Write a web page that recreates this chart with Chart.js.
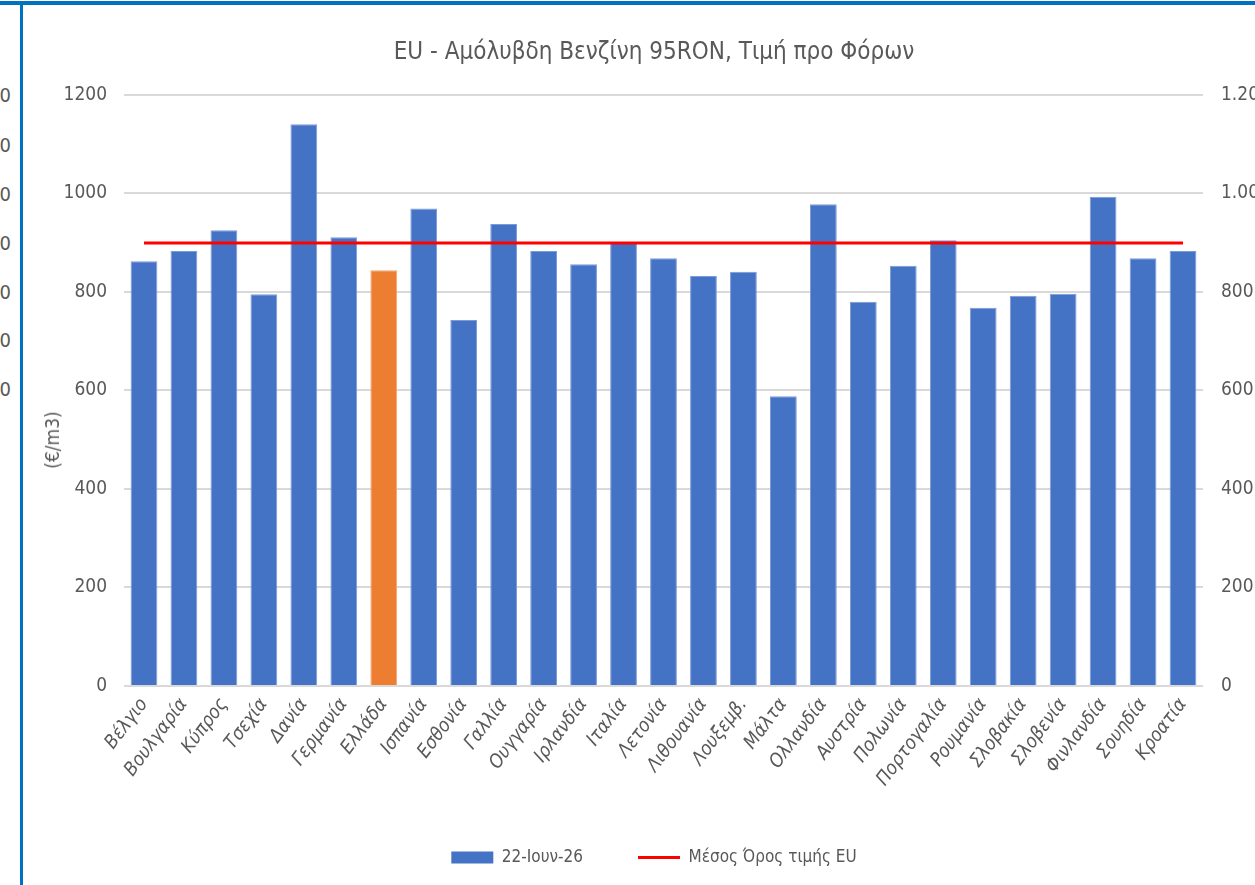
<!DOCTYPE html>
<html>
<head>
<meta charset="utf-8">
<script src="https://cdn.jsdelivr.net/npm/chart.js@4.4.1/dist/chart.umd.min.js"></script>
<style>
  html, body { margin: 0; padding: 0; background: #fff; width: 1255px; height: 885px; overflow: hidden; position: relative; }
  .font { font-family: "Liberation Sans Narrow", "DejaVu Sans Condensed", "Noto Sans", sans-serif; }
  #topline { position: absolute; left: 0; top: 1px; width: 1255px; height: 4px; background: #0070C0; }
  #leftline { position: absolute; left: 20px; top: 1px; width: 3px; height: 884px; background: #0070C0; }
  .ghost { position: absolute; right: 1244px; color: #595959; font-size: 20px; line-height: 20px; }
  #wrap { position: absolute; left: 23px; top: 5px; width: 1262px; height: 880px; }
  #ytitle { position: absolute; left: 52px; top: 440px; transform: translate(-50%, -50%) rotate(-90deg); color: #595959; font-size: 19px; white-space: nowrap; }
</style>
</head>
<body>
<div id="topline"></div>
<div id="leftline"></div>
<div class="ghost font" style="top:85px">0</div>
<div class="ghost font" style="top:135px">0</div>
<div class="ghost font" style="top:184px">0</div>
<div class="ghost font" style="top:233px">0</div>
<div class="ghost font" style="top:282px">0</div>
<div class="ghost font" style="top:330px">0</div>
<div class="ghost font" style="top:379px">0</div>
<div id="wrap"><canvas id="c" width="1262" height="880"></canvas></div>
<div id="ytitle" class="font">(€/m3)</div>
<script>
const categories = ["Βέλγιο","Βουλγαρία","Κύπρος","Τσεχία","Δανία","Γερμανία","Ελλάδα","Ισπανία","Εσθονία","Γαλλία","Ουγγαρία","Ιρλανδία","Ιταλία","Λετονία","Λιθουανία","Λουξεμβ.","Μάλτα","Ολλανδία","Αυστρία","Πολωνία","Πορτογαλία","Ρουμανία","Σλοβακία","Σλοβενία","Φινλανδία","Σουηδία","Κροατία"];
const prices = [862, 883, 925, 795, 1140, 911, 844, 969, 743, 938, 883, 856, 899, 868, 832, 841, 588, 978, 780, 853, 905, 768, 792, 796, 993, 868, 883];
const euAverage = [899, 899, 899, 899, 899, 899, 899, 899, 899, 899, 899, 899, 899, 899, 899, 899, 899, 899, 899, 899, 899, 899, 899, 899, 899, 899, 899];
const yTicks = [0, 200, 400, 600, 800, 1000, 1200];
const seriesNames = ["22-Ιουν-26", "Μέσος Όρος τιμής EU"];
const titleText = "EU - Αμόλυβδη Βενζίνη 95RON, Τιμή προ Φόρων";
const highlight = "Ελλάδα";

const FONT = '"Liberation Sans Narrow", "DejaVu Sans Condensed", "Noto Sans", sans-serif';
const GREY = '#595959';
const BLUE = '#4472C4', ORANGE = '#ED7D31', RED = '#FF0000';

const fmtRight = v => String(v).replace(/\B(?=(\d{3})+(?!\d))/g, '.');

new Chart(document.getElementById('c'), {
  data: {
    labels: categories,
    datasets: [
      {
        type: 'line', label: seriesNames[1], data: euAverage, yAxisID: 'y',
        borderColor: RED, borderWidth: 3, pointRadius: 0, order: 0, tension: 0
      },
      {
        type: 'bar', label: seriesNames[0], data: prices, yAxisID: 'y',
        backgroundColor: categories.map(c => c === highlight ? ORANGE : BLUE),
        borderColor: categories.map(c => c === highlight ? '#F4A46F' : '#7A9BD8'),
        borderWidth: {top: 1, left: 1, right: 1, bottom: 0},
        barPercentage: 0.67, categoryPercentage: 1.0, order: 1
      }
    ]
  },
  options: {
    responsive: false,
    animation: false,
    layout: { padding: { top: 0, bottom: 9, left: 0, right: 0 } },
    plugins: {
      tooltip: { enabled: false },
      title: {
        display: true, text: titleText, color: GREY,
        font: { family: FONT, size: 24, weight: 'normal' },
        padding: { top: 33, bottom: 28 }
      },
      legend: {
        position: 'bottom',
        labels: {
          color: GREY, font: { family: FONT, size: 17 },
          usePointStyle: true, pointStyleWidth: 42, boxHeight: 12, padding: 55,
          generateLabels: () => [
            { text: seriesNames[0], fillStyle: BLUE, strokeStyle: BLUE, lineWidth: 0, pointStyle: 'rect', datasetIndex: 1, fontColor: GREY },
            { text: seriesNames[1], fillStyle: RED, strokeStyle: RED, lineWidth: 3, pointStyle: 'line', datasetIndex: 0, fontColor: GREY }
          ]
        }
      }
    },
    scales: {
      x: {
        grid: { display: false },
        border: { display: false },
        offset: true,
        afterFit: s => { s.height = 108; },
        ticks: {
          color: GREY, font: { family: FONT, size: 19, style: 'italic' },
          maxRotation: 53, minRotation: 53, autoSkip: false, padding: 0
        }
      },
      y: {
        position: 'left', min: 0, max: 1200,
        afterBuildTicks: s => { s.ticks = yTicks.map(v => ({ value: v })); },
        afterFit: s => { s.width = 101; },
        grid: { color: '#D9D9D9', lineWidth: 2, drawTicks: false },
        border: { display: false },
        ticks: { color: GREY, font: { family: FONT, size: 19 }, padding: 17, callback: v => String(v) }
      },
      y2: {
        position: 'right', min: 0, max: 1200,
        afterBuildTicks: s => { s.ticks = yTicks.map(v => ({ value: v })); },
        afterFit: s => { s.width = 82; },
        grid: { display: false, drawTicks: false },
        border: { display: false },
        ticks: { color: GREY, font: { family: FONT, size: 19 }, padding: 18, callback: v => fmtRight(v) }
      }
    }
  }
});
</script>
</body>
</html>
